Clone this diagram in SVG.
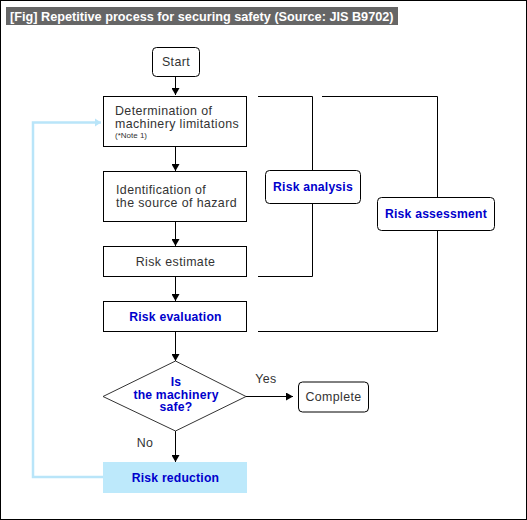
<svg xmlns="http://www.w3.org/2000/svg" width="527" height="520" viewBox="0 0 527 520">
<defs>
<marker id="ah" markerWidth="8" markerHeight="8" refX="7" refY="4" orient="auto" markerUnits="userSpaceOnUse">
<path d="M0,0 L7,4 L0,8 Z" fill="#000"/>
</marker>
<marker id="ahb" markerWidth="8" markerHeight="10" refX="6" refY="5" orient="auto" markerUnits="userSpaceOnUse">
<path d="M0,1 L6,5 L0,9 Z" fill="#b9e5f9"/>
</marker>
<style>
.t{font-family:"Liberation Sans",Arial,sans-serif;font-size:12.4px;letter-spacing:0.4px;fill:#333}
.s{font-family:"Liberation Sans",Arial,sans-serif;font-size:8px;fill:#333}
.b{font-family:"Liberation Sans",Arial,sans-serif;font-size:12.2px;letter-spacing:0.2px;font-weight:bold;fill:#0000cc}
.box{fill:#fff;stroke:#000;stroke-width:1}
.ln{fill:none;stroke:#000;stroke-width:1}
</style>
</defs>
<rect x="0.5" y="0.5" width="526" height="519" fill="#fff" stroke="#000" stroke-width="1"/>
<g id="title">
<rect x="6" y="7" width="392" height="18" fill="#666"/>
<text x="10" y="20.5" font-family="Liberation Sans,Arial,sans-serif" font-size="12.7" font-weight="bold" fill="#fff">[Fig] Repetitive process for securing safety (Source: JIS B9702)</text>
</g>
<g id="connectors">
<line class="ln" x1="175.5" y1="76" x2="175.5" y2="95" marker-end="url(#ah)"/>
<line class="ln" x1="175.5" y1="146" x2="175.5" y2="171" marker-end="url(#ah)"/>
<line class="ln" x1="175.5" y1="221" x2="175.5" y2="246" marker-end="url(#ah)"/>
<line class="ln" x1="175.5" y1="276" x2="175.5" y2="301" marker-end="url(#ah)"/>
<line class="ln" x1="175.5" y1="331" x2="175.5" y2="361" marker-end="url(#ah)"/>
<line class="ln" x1="246" y1="396.5" x2="293" y2="396.5" marker-end="url(#ah)"/>
<line class="ln" x1="175.5" y1="431" x2="175.5" y2="462" marker-end="url(#ah)"/>
<polyline class="ln" points="258,96.5 312.5,96.5 312.5,276.5 258,276.5"/>
<polyline class="ln" points="322,96.5 437.5,96.5 437.5,331.5 258,331.5"/>
<polyline fill="none" stroke="#b9e5f9" stroke-width="2.5" points="103,477 33,477 33,122.5 101,122.5" marker-end="url(#ahb)"/>
<text class="t" x="266" y="383" text-anchor="middle">Yes</text>
<text class="t" x="145" y="447" text-anchor="middle">No</text>
</g>
<g id="start">
<rect class="box" x="152.5" y="47.5" width="47" height="29" rx="4"/>
<text class="t" x="176" y="66" text-anchor="middle">Start</text>
</g>
<g id="determination">
<rect class="box" x="103.5" y="96.5" width="143" height="50"/>
<text class="t" x="115" y="115">Determination of</text>
<text class="t" x="115" y="128">machinery limitations</text>
<text class="s" x="115" y="138">(*Note 1)</text>
</g>
<g id="identification">
<rect class="box" x="103.5" y="171.5" width="143" height="50"/>
<text class="t" x="116" y="194">Identification of</text>
<text class="t" x="116" y="207">the source of hazard</text>
</g>
<g id="estimate">
<rect class="box" x="103.5" y="246.5" width="143" height="30"/>
<text class="t" x="175.5" y="266" text-anchor="middle">Risk estimate</text>
</g>
<g id="evaluation">
<rect class="box" x="103.5" y="301.5" width="143" height="30"/>
<text class="b" x="175.5" y="321" text-anchor="middle">Risk evaluation</text>
</g>
<g id="analysis">
<rect class="box" x="265.5" y="170.5" width="95" height="33" rx="4"/>
<text class="b" x="313" y="191" text-anchor="middle">Risk analysis</text>
</g>
<g id="assessment">
<rect class="box" x="377.5" y="197.5" width="117" height="33" rx="4"/>
<text class="b" x="436" y="218" text-anchor="middle">Risk assessment</text>
</g>
<g id="decision">
<polygon points="175.5,361 246,396.5 175.5,431 103,396.5" fill="#fff" stroke="#333" stroke-width="1"/>
<text class="b" x="176" y="386" text-anchor="middle">Is</text>
<text class="b" x="176" y="398.5" text-anchor="middle">the machinery</text>
<text class="b" x="176" y="411" text-anchor="middle">safe?</text>
</g>
<g id="complete">
<rect class="box" x="298.5" y="382" width="70" height="30" rx="4"/>
<text class="t" x="333.5" y="401" text-anchor="middle">Complete</text>
</g>
<g id="reduction">
<rect x="103" y="462" width="144" height="31" fill="#bde9fb"/>
<text class="b" x="175.5" y="482" text-anchor="middle">Risk reduction</text>
</g>
</svg>
